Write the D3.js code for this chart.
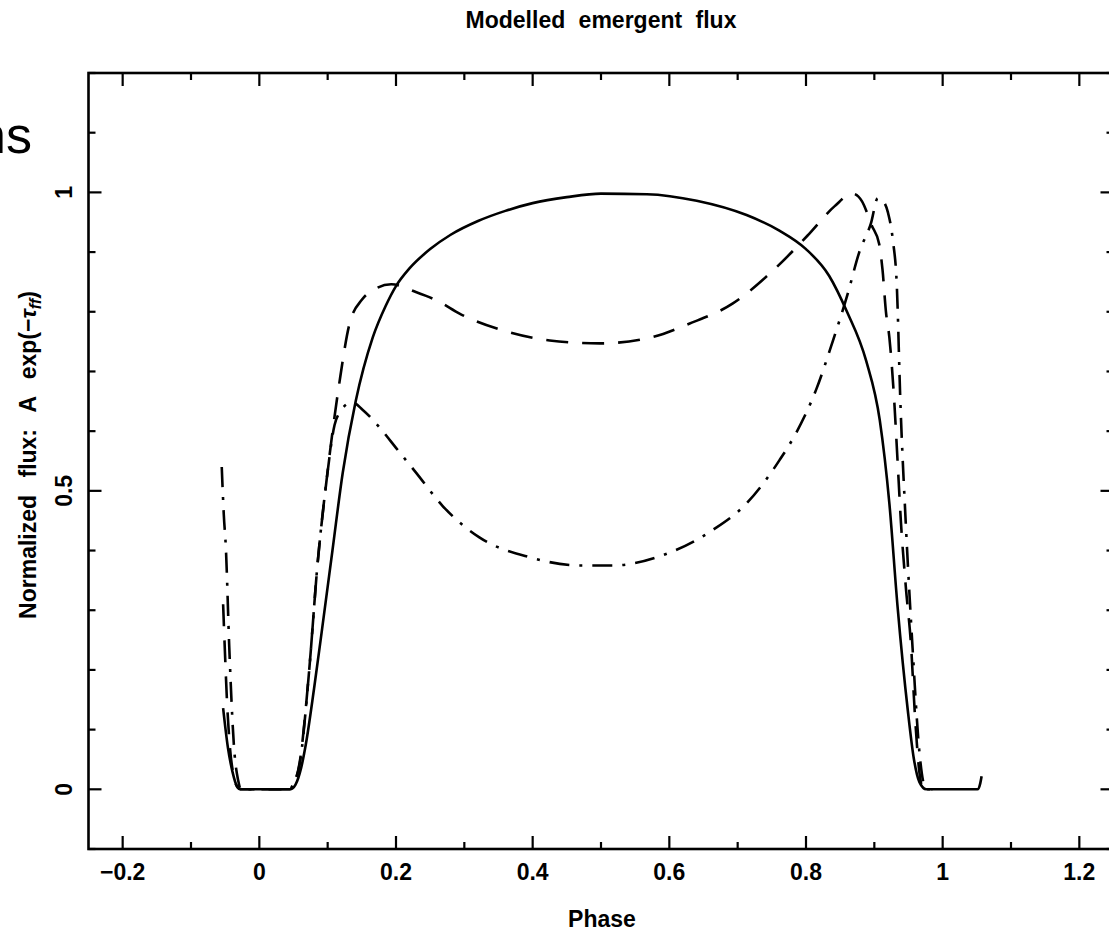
<!DOCTYPE html>
<html>
<head>
<meta charset="utf-8">
<script src="https://cdn.jsdelivr.net/npm/d3@7"></script>
<style>
  body { margin: 0; background: #fff; }
  svg { display: block; }
  text { font-family: "Liberation Sans", Arial, sans-serif; font-weight: bold; fill: #000; }
</style>
</head>
<body>
<div class="chart"></div>
<script>
var width = 1109;
var height = 931;

// phase / normalized flux pairs
var solid_curve = [
    [-0.053,0.136],[-0.046,0.07],[-0.039,0.028],[-0.033,0.006],[-0.026,0],[0.045,0],[0.053,0.008],
    [0.061,0.035],[0.068,0.075],[0.08,0.168],[0.092,0.27],[0.107,0.40],[0.122,0.53],[0.141,0.65],
    [0.166,0.757],[0.185,0.81],[0.2,0.843],[0.22,0.873],[0.25,0.905],[0.28,0.929],[0.32,0.952],
    [0.36,0.969],[0.4,0.982],[0.45,0.992],[0.5,0.998],[0.567,0.997],[0.64,0.986],[0.713,0.962],
    [0.761,0.936],[0.8,0.905],[0.834,0.86],[0.86,0.8],[0.888,0.718],[0.908,0.618],[0.922,0.479],
    [0.934,0.306],[0.949,0.132],[0.958,0.05],[0.966,0.012],[0.976,0],[1.051,0],[1.055,0.01],[1.057,0.022]
];
var dashed_curve = [
    [-0.053,0.31],[-0.05,0.22],[-0.047,0.14],[-0.043,0.07],[-0.037,0.02],[-0.032,0.003],[-0.028,0],
    [0.046,0],[0.052,0.012],[0.059,0.045],[0.073,0.2],[0.085,0.375],[0.098,0.514],[0.117,0.68],
    [0.132,0.78],[0.15,0.82],[0.166,0.836],[0.193,0.846],[0.229,0.833],[0.263,0.817],[0.293,0.797],
    [0.356,0.769],[0.425,0.752],[0.498,0.747],[0.566,0.755],[0.629,0.78],[0.693,0.814],[0.747,0.864],
    [0.805,0.931],[0.842,0.977],[0.868,0.998],[0.882,0.985],[0.896,0.945],[0.907,0.914],[0.912,0.87],
    [0.917,0.8],[0.922,0.757],[0.929,0.653],[0.934,0.55],[0.939,0.446],[0.946,0.34],[0.954,0.236],
    [0.959,0.132],[0.966,0.028],[0.972,0],[0.985,0]
];
var dashdot_curve = [
    [-0.055,0.54],[-0.052,0.46],[-0.049,0.405],[-0.044,0.238],[-0.037,0.07],[-0.031,0.015],[-0.027,0],
    [0.044,0],[0.05,0.01],[0.059,0.042],[0.073,0.2],[0.085,0.375],[0.098,0.514],[0.11,0.61],
    [0.12,0.635],[0.13,0.646],[0.138,0.647],[0.151,0.636],[0.176,0.606],[0.2,0.572],[0.229,0.531],
    [0.268,0.475],[0.322,0.422],[0.395,0.389],[0.469,0.375],[0.517,0.375],[0.59,0.392],[0.663,0.434],
    [0.713,0.479],[0.761,0.551],[0.786,0.598],[0.815,0.67],[0.839,0.75],[0.861,0.83],[0.878,0.9],
    [0.895,0.948],[0.905,0.99],[0.913,0.985],[0.92,0.966],[0.927,0.921],[0.933,0.841],[0.938,0.653],
    [0.946,0.446],[0.956,0.236],[0.966,0.062],[0.972,0.01],[0.976,0],[0.985,0]
];

var x_ticks = [-0.2, 0, 0.2, 0.4, 0.6, 0.8, 1, 1.2];
var y_ticks = [0, 0.5, 1];

var x = d3.scaleLinear().domain([-0.25, 1.25]).range([88.5, 1113.5]);
var y = d3.scaleLinear().domain([-0.1, 1.2]).range([849, 73]);

var svg = d3.select(".chart")
            .append("svg")
            .attr("width", width)
            .attr("height", height);

// stray slide text at the left edge
svg.append("text")
   .attr("x", 32)
   .attr("y", 153)
   .attr("text-anchor", "end")
   .style("font-weight", "normal")
   .style("font-size", "52px")
   .text("ns");

svg.append("text")
   .attr("x", 601)
   .attr("y", 28)
   .attr("text-anchor", "middle")
   .style("font-size", "23px")
   .style("word-spacing", "7px")
   .text("Modelled emergent flux");

var minor_x = d3.range(-0.2, 1.21, 0.1).map(function(d){ return Math.round(d*10)/10; });
var minor_y = d3.range(-0.1, 1.21, 0.1).map(function(d){ return Math.round(d*10)/10; });

function isMajor(v, list){
    return list.some(function(t){ return Math.abs(t - v) < 1e-9; });
}

// inward ticks on all four sides
var ticks = svg.append("g").attr("stroke", "#000").attr("stroke-width", 2.2);
minor_x.forEach(function(v){
    var len = isMajor(v, x_ticks) ? 13 : 7;
    ticks.append("line").attr("x1", x(v)).attr("x2", x(v)).attr("y1", y(1.2)).attr("y2", y(1.2) + len);
    ticks.append("line").attr("x1", x(v)).attr("x2", x(v)).attr("y1", y(-0.1)).attr("y2", y(-0.1) - len);
});
minor_y.forEach(function(v){
    var len = isMajor(v, y_ticks) ? 13 : 7;
    ticks.append("line").attr("x1", x(-0.25)).attr("x2", x(-0.25) + len).attr("y1", y(v)).attr("y2", y(v));
    ticks.append("line").attr("x1", x(1.25)).attr("x2", x(1.25) - len).attr("y1", y(v)).attr("y2", y(v));
});

svg.append("rect")
   .attr("x", x(-0.25))
   .attr("y", y(1.2))
   .attr("width", x(1.25) - x(-0.25))
   .attr("height", y(-0.1) - y(1.2))
   .attr("fill", "none")
   .attr("stroke", "#000")
   .attr("stroke-width", 2.6);

svg.selectAll(".xlab")
   .data(x_ticks)
   .enter()
   .append("text")
   .attr("class", "xlab")
   .attr("x", function(d){ return x(d); })
   .attr("y", 880)
   .attr("text-anchor", "middle")
   .style("font-size", "23px")
   .text(function(d){ return d < 0 ? "\u2212" + Math.abs(d) : d; });

svg.selectAll(".ylab")
   .data(y_ticks)
   .enter()
   .append("text")
   .attr("class", "ylab")
   .attr("transform", function(d){ return "translate(72," + y(d) + ") rotate(-90)"; })
   .attr("text-anchor", "middle")
   .style("font-size", "23px")
   .text(function(d){ return d; });

svg.append("text")
   .attr("x", 602)
   .attr("y", 927)
   .attr("text-anchor", "middle")
   .style("font-size", "23px")
   .text("Phase");

var ylabel = svg.append("text")
   .attr("transform", "translate(36,455) rotate(-90)")
   .attr("text-anchor", "middle")
   .style("font-size", "23px")
   .style("word-spacing", "11px");
ylabel.append("tspan").text("Normalized flux: A exp(\u2212");
ylabel.append("tspan").style("font-style", "italic").text("\u03c4");
ylabel.append("tspan").attr("baseline-shift", "-30%").style("font-size", "16px")
      .style("font-style", "italic").text("ff");
ylabel.append("tspan").text(")");

var line = d3.line()
    .x(function(d){ return x(d[0]); })
    .y(function(d){ return y(d[1]); })
    .curve(d3.curveMonotoneX);

var series = [
    {name: "solid", values: solid_curve, dash: null},
    {name: "dashed", values: dashed_curve, dash: "22,14"},
    {name: "dashdot", values: dashdot_curve, dash: "20,10,3,10"}
];

svg.selectAll(".curve")
   .data(series)
   .enter()
   .append("path")
   .attr("class", "curve")
   .attr("d", function(d){ return line(d.values); })
   .attr("fill", "none")
   .attr("stroke", "#000")
   .attr("stroke-width", 2.6)
   .attr("stroke-dasharray", function(d){ return d.dash; });
</script>
</body>
</html>
